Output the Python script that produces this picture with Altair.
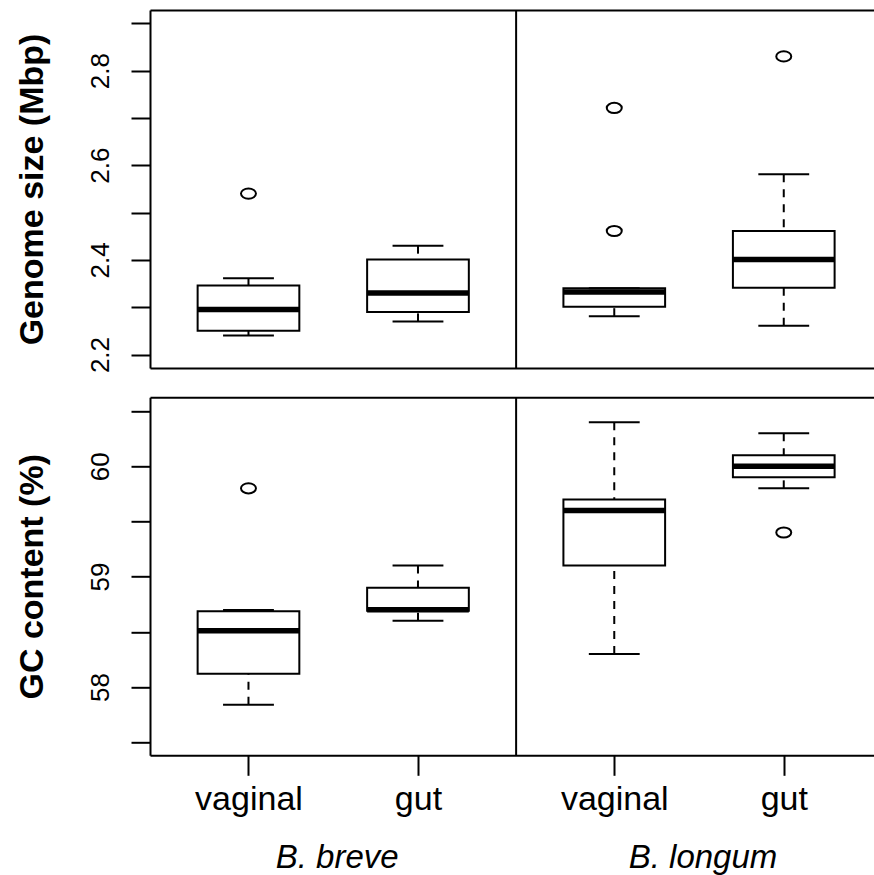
import json
import altair as alt
import pandas as pd

# ---------------- data ----------------
species = ["B. breve", "B. longum"]
niches = ["vaginal", "gut"]

# box statistics, one entry per box: B.breve-vaginal, B.breve-gut, B.longum-vaginal, B.longum-gut
genome_lower = [2.240, 2.270, 2.281, 2.261]
genome_q1 = [2.250, 2.290, 2.301, 2.341]
genome_median = [2.295, 2.330, 2.332, 2.401]
genome_q3 = [2.346, 2.401, 2.340, 2.461]
genome_upper = [2.361, 2.430, 2.340, 2.581]
genome_outlier_box = [0, 2, 2, 3]
genome_outlier_value = [2.540, 2.721, 2.461, 2.830]

gc_lower = [57.84, 58.60, 58.30, 59.80]
gc_q1 = [58.12, 58.69, 59.10, 59.90]
gc_median = [58.51, 58.70, 59.60, 60.00]
gc_q3 = [58.686, 58.90, 59.70, 60.10]
gc_upper = [58.697, 59.10, 60.40, 60.30]
gc_outlier_box = [0, 3]
gc_outlier_value = [59.80, 59.40]

genome_ticks = [2.2, 2.3, 2.4, 2.5, 2.6, 2.7, 2.8, 2.9]
gc_ticks = [57.5, 58.0, 58.5, 59.0, 59.5, 60.0, 60.5]

# ---------------- layout / style ----------------
W, H = 724, 358
GROUP_GAP = 0.158
HALF_BOX = 0.3
HALF_CAP = 0.15
X_DOMAIN = [0.419, 0.419 + W / 169.5]
FONT = "Liberation Sans"
INK = "#000000"

positions, box_species, box_niche = [], [], []
for s_i, sp in enumerate(species):
    for n_i, ni in enumerate(niches):
        positions.append(round(1 + n_i + s_i * (len(niches) + GROUP_GAP), 4))
        box_species.append(sp)
        box_niche.append(ni)
divider = (positions[1] + positions[2]) / 2
species_centers = [
    sum(p for p, s in zip(positions, box_species) if s == sp) / len(niches) for sp in species
]

xs = alt.Scale(domain=X_DOMAIN, nice=False, zero=False)

top_axis = alt.Axis(orient="top", domain=True, ticks=False, labels=False, title=None,
                    domainColor=INK, domainWidth=2, grid=False)
plain_bottom_axis = alt.Axis(orient="bottom", domain=True, ticks=False, labels=False, title=None,
                             domainColor=INK, domainWidth=2, grid=False)
label_expr_x = "{}[indexof({}, datum.value)]".format(json.dumps(box_niche), json.dumps(positions))
labelled_bottom_axis = alt.Axis(
    orient="bottom", values=positions, labelExpr=label_expr_x, title=None,
    domain=True, domainColor=INK, domainWidth=2,
    ticks=True, tickSize=20, tickWidth=2, tickColor=INK,
    labelFont=FONT, labelFontSize=34, labelColor=INK, labelAlign="center",
    labelBaseline="alphabetic", labelPadding=33.7, labelFlush=False, labelOverlap=False,
    grid=False,
)


def panel(lower, q1, med, q3, upper, out_box, out_val, y_domain, y_ticks, label_expr,
          title, bottom_axis, with_species):
    df = pd.DataFrame({
        "species": box_species, "niche": box_niche, "pos": positions,
        "lower": lower, "q1": q1, "median": med, "q3": q3, "upper": upper,
    })
    out = pd.DataFrame({"pos": [positions[i] for i in out_box], "value": out_val})
    div = pd.DataFrame({"div": [divider]})

    ys = alt.Scale(domain=y_domain, nice=False, zero=False)
    yaxis = alt.Axis(
        values=y_ticks, labelExpr=label_expr, title=title, grid=False,
        domain=True, domainColor=INK, domainWidth=2,
        ticks=True, tickSize=19, tickWidth=2, tickColor=INK,
        labelFont=FONT, labelFontSize=26, labelColor=INK, labelAngle=270,
        labelAlign="center", labelBaseline="alphabetic", labelPadding=23,
        labelOverlap=False,
        titleFont=FONT, titleFontSize=34, titleFontWeight="bold", titleColor=INK,
        titleAngle=270, titleX=-108, titleY=H / 2, titleAlign="center",
        titleBaseline="alphabetic",
    )

    def Y(field):
        return alt.Y(field + ":Q", scale=ys, axis=yaxis)

    base = alt.Chart(df).transform_calculate(
        bl=f"datum.pos - {HALF_BOX}", br=f"datum.pos + {HALF_BOX}",
        cl=f"datum.pos - {HALF_CAP}", cr=f"datum.pos + {HALF_CAP}",
    )

    whisk_lo = base.mark_rule(color=INK, strokeWidth=2, strokeDash=[8, 7]).encode(
        x=alt.X("pos:Q", scale=xs, axis=None), y=Y("lower"), y2="q1:Q",
    )
    whisk_hi = base.mark_rule(color=INK, strokeWidth=2, strokeDash=[8, 7]).encode(
        x=alt.X("pos:Q", scale=xs, axis=None), y=Y("upper"), y2="q3:Q",
    )
    cap_lo = base.mark_rule(color=INK, strokeWidth=2).encode(
        x=alt.X("cl:Q", scale=xs, axis=None), x2="cr:Q", y=Y("lower"),
    )
    cap_hi = base.mark_rule(color=INK, strokeWidth=2).encode(
        x=alt.X("cl:Q", scale=xs, axis=None), x2="cr:Q", y=Y("upper"),
    )
    box = base.mark_rect(fill="white", stroke=INK, strokeWidth=2).encode(
        x=alt.X("bl:Q", scale=xs, axis=top_axis), x2="br:Q", y=Y("q1"), y2="q3:Q",
    )
    median = base.mark_rule(color=INK, strokeWidth=5.5, strokeCap="butt").encode(
        x=alt.X("bl:Q", scale=xs, axis=None), x2="br:Q", y=Y("median"),
    )
    outliers = alt.Chart(out).mark_point(
        shape="M-1,0A1,0.68,0,1,1,1,0A1,0.68,0,1,1,-1,0Z",
        size=225, filled=False, stroke=INK, strokeWidth=2, opacity=1,
    ).encode(
        x=alt.X("pos:Q", scale=xs, axis=None), y=Y("value"),
    )
    divider_rule = alt.Chart(div).mark_rule(color=INK, strokeWidth=2).encode(
        x=alt.X("div:Q", scale=xs, axis=bottom_axis),
    )
    layers = [whisk_lo, whisk_hi, box, median, cap_lo, cap_hi, outliers, divider_rule]
    if with_species:
        sp_df = pd.DataFrame({"species": species, "cx": species_centers})
        layers.append(
            alt.Chart(sp_df).mark_text(
                font=FONT, fontSize=33, fontStyle="italic", color=INK,
                align="center", baseline="alphabetic", dx=4,
            ).encode(
                x=alt.X("cx:Q", scale=xs, axis=None),
                y=alt.value(H + 112.7),
                text="species:N",
            )
        )
    return alt.layer(*layers).resolve_axis(x="independent").properties(width=W, height=H)


genome_expr = "round(datum.value * 10) % 2 == 0 ? format(datum.value, '.1f') : ''"
gc_expr = "datum.value % 1 == 0 ? format(datum.value, '.0f') : ''"

top = panel(genome_lower, genome_q1, genome_median, genome_q3, genome_upper,
            genome_outlier_box, genome_outlier_value, [2.1715, 2.928], genome_ticks,
            genome_expr, "Genome size (Mbp)", plain_bottom_axis, False)
bottom = panel(gc_lower, gc_q1, gc_median, gc_q3, gc_upper,
               gc_outlier_box, gc_outlier_value, [57.381, 60.625], gc_ticks,
               gc_expr, "GC content (%)", labelled_bottom_axis, True)

chart = alt.vconcat(top, bottom, spacing=29.3, bounds="flush").properties(
    padding={"left": 15, "top": 9, "right": 0, "bottom": 0},
    background="white",
).configure(font=FONT).configure_view(stroke=None)

chart.save("out.html", embed_options={"renderer": "svg", "actions": False})
